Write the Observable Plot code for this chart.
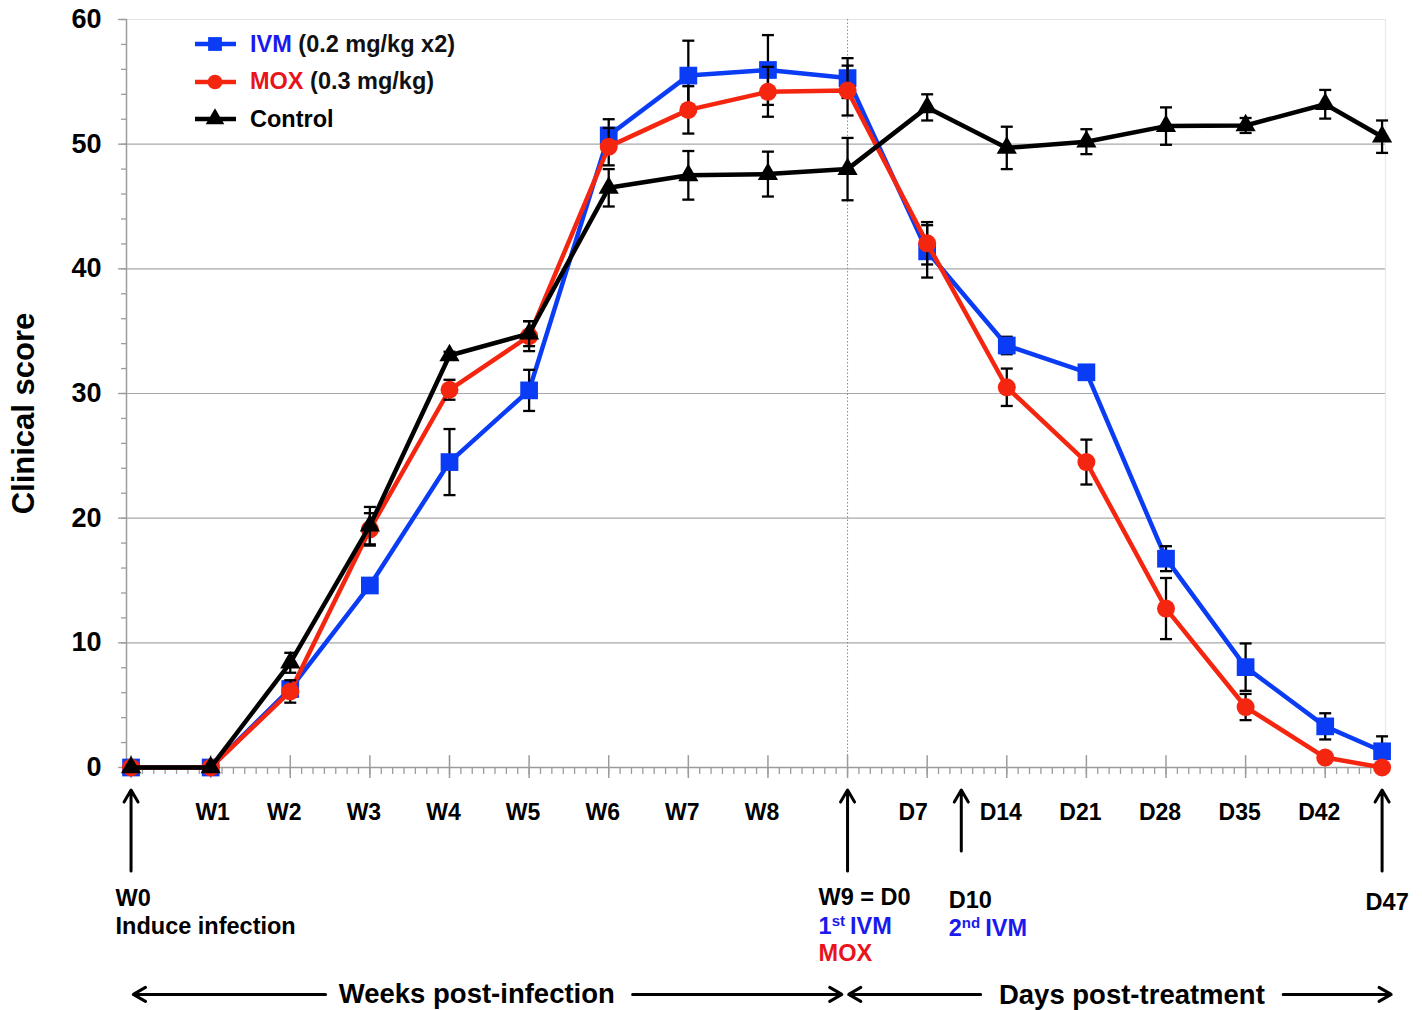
<!DOCTYPE html>
<html>
<head>
<meta charset="utf-8">
<script src="https://cdn.jsdelivr.net/npm/d3@7"></script>
<script src="https://cdn.jsdelivr.net/npm/@observablehq/plot@0.6"></script>
<style>
  html, body { margin: 0; padding: 0; background: white; }
  #wrap { position: relative; width: 1422px; height: 1010px; overflow: hidden; font-family: 'Liberation Sans', Arial, sans-serif; }
  #legend { position: absolute; left: 193px; top: 26px; font-weight: bold; font-size: 23.5px; }
  .lrow { position: absolute; left: 0; height: 36px; display: flex; align-items: center; white-space: nowrap; }
</style>
</head>
<body>
<div id="wrap"><div id="legend"></div></div>
<script>
// ---- data ----
const days = [0, 7, 14, 21, 28, 35, 42, 49, 56, 63, 70, 77, 84, 91, 98, 105, 110];
const ivm    = [0, 0, 6.3, 14.6, 24.5, 30.25, 50.7, 55.5, 55.95, 55.3, 41.4, 33.85, 31.7, 16.75, 8.05, 3.3, 1.3];
const ivmErr = [0, 0, 0.5, 0.4, 2.65, 1.65, 1.3, 2.8, 2.8, 1.6, 2.1, 0.7, 0.2, 1.0, 1.9, 1.05, 1.2];
const mox    = [0, 0, 6.1, 19.1, 30.3, 34.6, 49.8, 52.75, 54.2, 54.3, 42.05, 30.5, 24.5, 12.75, 4.85, 0.8, 0];
const moxErr = [0, 0, 0.9, 1.3, 0.8, 1.2, 1.5, 1.9, 2.0, 2.0, 1.7, 1.5, 1.8, 2.45, 1.05, 0.3, 0];
const ctrl    = [0, 0, 8.4, 19.4, 33.05, 34.8, 46.5, 47.5, 47.6, 48.0, 52.95, 49.7, 50.2, 51.45, 51.5, 53.2, 50.6];
const ctrlErr = [0, 0, 0.8, 1.5, 0.3, 1.0, 1.5, 1.95, 1.8, 2.5, 1.05, 1.7, 1.0, 1.5, 0.6, 1.15, 1.3];

const tickDays   = [7, 14, 21, 28, 35, 42, 49, 56, 70, 77, 84, 91, 98, 105];
const tickLabels = ["W1", "W2", "W3", "W4", "W5", "W6", "W7", "W8", "D7", "D14", "D21", "D28", "D35", "D42"];
const yMajor = [0, 10, 20, 30, 40, 50, 60];
const gridY = [10, 20, 30, 40, 50];
const treatmentDay = 63;

const seriesNames = ["IVM", "MOX", "Control"];
const seriesNotes = [" (0.2 mg/kg x2)", " (0.3 mg/kg)", ""];
const seriesColors = ["#0a3cf5", "#f5260f", "#000000"];
const seriesTextColors = ["#1a1aee", "#e8141b", "#000000"];
const seriesSymbols = ["square", "circle", "triangle"];
const seriesR = [10, 9, 7.5];
const seriesValues = [ivm, mox, ctrl];
const seriesErrs = [ivmErr, moxErr, ctrlErr];

// annotation arrows under the axis (day, tail y, tip y in score units)
const arrowDays = [0, 63, 73, 110];
const arrowTails = [-8.3, -8.3, -6.7, -8.3];
const arrowTip = -1.8;

// ---- build ----
const xDomain = [-0.4, 110.3];
const rowsBy = seriesNames.map((s, k) => days.map((d, i) => ({
  day: d, series: s, value: seriesValues[k][i], err: seriesErrs[k][i]
})));

const cap = {
  draw(ctx, size) {
    const w = Math.sqrt(size / Math.PI);
    ctx.moveTo(-w, 0); ctx.lineTo(w, 0);
  }
};

const grey = "#9c9c9c";
const seriesMarks = rowsBy.flatMap((rows, k) => {
  const er = rows.filter(r => r.err > 0);
  return [
    Plot.line(rows, {x: "day", y: "value", stroke: seriesColors[k], strokeWidth: 4.5, strokeLinejoin: "round"}),
    Plot.ruleX(er, {x: "day", y1: r => r.value - r.err, y2: r => r.value + r.err, stroke: "black", strokeWidth: 2.3}),
    Plot.dot(er, {x: "day", y: r => r.value + r.err, symbol: cap, r: 6, stroke: "black", strokeWidth: 2.3}),
    Plot.dot(er, {x: "day", y: r => r.value - r.err, symbol: cap, r: 6, stroke: "black", strokeWidth: 2.3}),
    Plot.dot(rows, {x: "day", y: "value", symbol: seriesSymbols[k], r: seriesR[k], fill: seriesColors[k], stroke: "none"})
  ];
});

const tickRows = tickDays.map((d, i) => ({day: d, label: tickLabels[i]}));
const bold = "bold";
const annSize = 23.5;

const chart = Plot.plot({
  width: 1422,
  height: 1010,
  marginLeft: 126,
  marginRight: 37,
  marginTop: 19,
  marginBottom: 243,
  x: {domain: xDomain, label: null},
  y: {domain: [0, 60], label: null},
  style: {fontFamily: "'Liberation Sans', Arial, sans-serif", background: "white", color: "black", overflow: "visible"},
  marks: [
    Plot.ruleY(gridY, {stroke: "#a8a8a8", strokeWidth: 1.2}),
    Plot.ruleY([60], {stroke: "#e4e4e4", strokeWidth: 1.2}),
    Plot.ruleX([xDomain[1]], {stroke: "#e8e8e8", strokeWidth: 1.2}),
    Plot.ruleX([treatmentDay], {stroke: "#8a8a8a", strokeWidth: 1, strokeDasharray: "1.5,2"}),
    Plot.ruleX([xDomain[0]], {stroke: grey, strokeWidth: 1.5}),
    Plot.ruleY([0], {stroke: grey, strokeWidth: 1.5}),
    Plot.axisY({ticks: d3.range(0, 61, 2), tickSize: 5, tickFormat: () => "", stroke: grey, strokeWidth: 1.3, label: null}),
    Plot.axisY({ticks: yMajor, tickSize: 8, tickPadding: 17, fontSize: 27, fontWeight: bold, stroke: grey, strokeWidth: 1.3, fill: "black", label: null}),
    Plot.axisX({ticks: d3.range(0, 111), tickSize: 7, tickFormat: () => "", stroke: grey, strokeWidth: 1.3, label: null}),
    Plot.axisX({ticks: d3.range(0, 106, 7), tickSize: 11, tickFormat: () => "", stroke: grey, strokeWidth: 1.5, label: null}),
    Plot.ruleX(d3.range(0, 106, 7), {y1: 0, y2: 0.95, stroke: grey, strokeWidth: 1.5}),
    ...seriesMarks,
    // x tick labels
    Plot.text(tickRows.filter(r => r.label !== "D7" && r.label !== "W1"), {x: "day", y: -3.6, text: "label", dx: -6, fontSize: 23, fontWeight: bold, fill: "black"}),
    Plot.text(tickRows.filter(r => r.label === "W1"), {x: "day", y: -3.6, text: "label", dx: 2, fontSize: 23, fontWeight: bold, fill: "black"}),
    Plot.text(tickRows.filter(r => r.label === "D7"), {x: "day", y: -3.6, text: "label", dx: -14, fontSize: 23, fontWeight: bold, fill: "black"}),
    // event arrows
    Plot.arrow(arrowDays, {x1: d => d, x2: d => d, y1: (d, i) => arrowTails[i], y2: arrowTip, stroke: "black", strokeWidth: 3, headLength: 7, headAngle: 60}),
    // event labels
    Plot.text(["W0"], {x: 0, y: -10.5, dx: -15.5, textAnchor: "start", fontSize: annSize, fontWeight: bold, fill: "black"}),
    Plot.text(["Induce infection"], {x: 0, y: -12.75, dx: -15.5, textAnchor: "start", fontSize: annSize, fontWeight: bold, fill: "black"}),
    Plot.text(["W9 = D0"], {x: 63, y: -10.4, dx: -29, textAnchor: "start", fontSize: annSize, fontWeight: bold, fill: "black"}),
    Plot.text(["1st IVM"], {x: 63, y: -12.75, dx: -29, textAnchor: "start", fontSize: annSize, fontWeight: bold, fill: seriesTextColors[0]}),
    Plot.text(["MOX"], {x: 63, y: -14.9, dx: -29, textAnchor: "start", fontSize: annSize, fontWeight: bold, fill: seriesTextColors[1]}),
    Plot.text(["D10"], {x: 73, y: -10.7, dx: -12.5, textAnchor: "start", fontSize: annSize, fontWeight: bold, fill: "black"}),
    Plot.text(["2nd IVM"], {x: 73, y: -12.95, dx: -12.5, textAnchor: "start", fontSize: annSize, fontWeight: bold, fill: seriesTextColors[0]}),
    Plot.text(["D47"], {x: 110, y: -10.8, dx: -16.5, textAnchor: "start", fontSize: annSize, fontWeight: bold, fill: "black"}),
    // period spans
    Plot.arrow([[17.1, 0.2], [44.1, 62.5], [74.7, 63.1], [101.3, 110.8]], {x1: d => d[0], x2: d => d[1], y1: -18.2, y2: -18.2, stroke: "black", strokeWidth: 3, headLength: 7, headAngle: 60}),
    Plot.text(["Weeks post-infection"], {x: 30.4, y: -18.2, fontSize: 27.5, fontWeight: bold, fill: "black"}),
    Plot.text(["Days post-treatment"], {x: 88.0, y: -18.3, fontSize: 27.5, fontWeight: bold, fill: "black"}),
    // y label
    Plot.text(["Clinical score"], {frameAnchor: "left", textAnchor: "middle", rotate: -90, dx: -102, dy: 20, fontSize: 31, fontWeight: bold, fill: "black"})
  ]
});

// superscripts in the annotations
d3.select(chart).selectAll("text").each(function() {
  const t = this.textContent;
  const m = /^(\d)(st|nd) (IVM)$/.exec(t);
  if (!m) return;
  const el = d3.select(this);
  el.text(null);
  el.append("tspan").text(m[1]);
  el.append("tspan").attr("dy", -8).attr("font-size", 15).text(m[2]);
  el.append("tspan").attr("dy", 8).attr("dx", 5).text(m[3]);
});

document.getElementById("wrap").prepend(chart);

// legend
const legend = d3.select("#legend");
seriesNames.forEach((name, k) => {
  const row = legend.append("div").attr("class", "lrow").style("top", `${k * 37.5}px`);
  const svg = row.append("svg").attr("width", 46).attr("height", 24).style("margin-right", "11px");
  svg.append("line").attr("x1", 2).attr("x2", 43).attr("y1", 12).attr("y2", 12)
    .attr("stroke", seriesColors[k]).attr("stroke-width", 4.5);
  const sym = d3.symbol().type({square: d3.symbolSquare, circle: d3.symbolCircle, triangle: d3.symbolTriangle}[seriesSymbols[k]])
    .size({square: 190, circle: 170, triangle: 150}[seriesSymbols[k]]);
  svg.append("path").attr("d", sym()).attr("transform", "translate(22,12)").attr("fill", seriesColors[k]);
  row.append("span").style("color", seriesTextColors[k]).text(name);
  row.append("span").style("color", "#111").style("white-space", "pre").text(seriesNotes[k]);
});
</script>
</body>
</html>
